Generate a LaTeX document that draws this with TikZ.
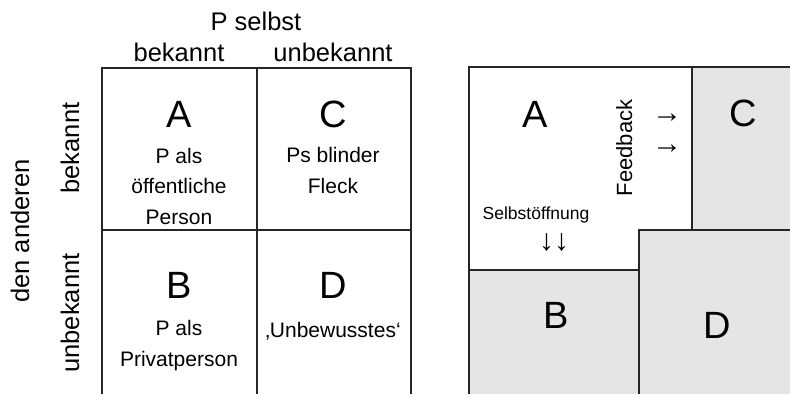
\documentclass[tikz,border=0pt]{standalone}
\usepackage{fontspec}
\setmainfont{Liberation Sans}
\usetikzlibrary{positioning}
\definecolor{fieldgray}{RGB}{229,229,229}

\begin{document}
\begin{tikzpicture}[
  x=1pt, y=-1pt,
  grid/.style={line width=1.6pt, draw=black!85},
  field/.style={fill=fieldgray},
  head/.style={font=\fontsize{25.5}{28}\selectfont, inner sep=0pt, anchor=base},
  letter/.style={font=\fontsize{38}{40}\selectfont, inner sep=0pt, anchor=base},
  celltext/.style={font=\fontsize{21}{30.5}\selectfont, align=center, inner sep=0pt, anchor=base},
  small/.style={font=\fontsize{17.5}{20}\selectfont, inner sep=0pt, anchor=base},
  glyph/.style={font=\fontsize{30}{32}\selectfont, inner sep=0pt}
]
\useasboundingbox (0,0) rectangle (790,394);

% left: the window as a matrix
\draw[grid] (102,394) -- (102,68) -- (411,68) -- (411,394);
\draw[grid] (257,68) -- (257,394);
\draw[grid] (102,230) -- (411,230);

\node[head] (pself) at (256,30) {P selbst};
\node[head] (known) at (179,61) {bekannt};
\node[head] (unknown) at (333,61) {unbekannt};
\node[head, rotate=90] (others) at (29,231) {den anderen};
\node[head, rotate=90] (oknown) at (79,148) {bekannt};
\node[head, rotate=90] (ounknown) at (79,313) {unbekannt};

% multi-line texts: base is the last line
\node[letter] (la) at (179,127) {A};
\node[celltext] (lat) at (179,224) {P als\\öffentliche\\Person};
\node[letter] (lc) at (333,127) {C};
\node[celltext] (lct) at (333,193) {Ps blinder\\Fleck};
\node[letter] (lb) at (179,298) {B};
\node[celltext] (lbt) at (179,366) {P als\\Privatperson};
\node[letter] (ld) at (333,298) {D};
\node[celltext] (ldt) at (333,337) {‚Unbewusstes‘};

% right: shifted fields
\fill[field] (692,67) rectangle (790,230);
\fill[field] (639,230) rectangle (790,394);
\fill[field] (469,270) rectangle (639,394);
\draw[grid] (469,394) -- (469,67) -- (790,67);
\draw[grid] (692,67) -- (692,230);
\draw[grid] (639,394) -- (639,230) -- (790,230);
\draw[grid] (469,270) -- (639,270);

\node[letter] (ra) at (535,127) {A};
\node[letter] (rc) at (743,126) {C};
\node[letter] (rb) at (556,328) {B};
\node[letter] (rd) at (717,338) {D};
\node[head, rotate=90, font=\fontsize{22}{24}\selectfont] (feedback) at (632,148) {Feedback};
\node[glyph] (fa1) at (667,118) {→};
\node[glyph] (fa2) at (667,149) {→};
\node[small] (disclose) at (536,219) {Selbstöffnung};
\node[glyph] (darr) at (554,243) {↓↓};
\end{tikzpicture}
\end{document}
